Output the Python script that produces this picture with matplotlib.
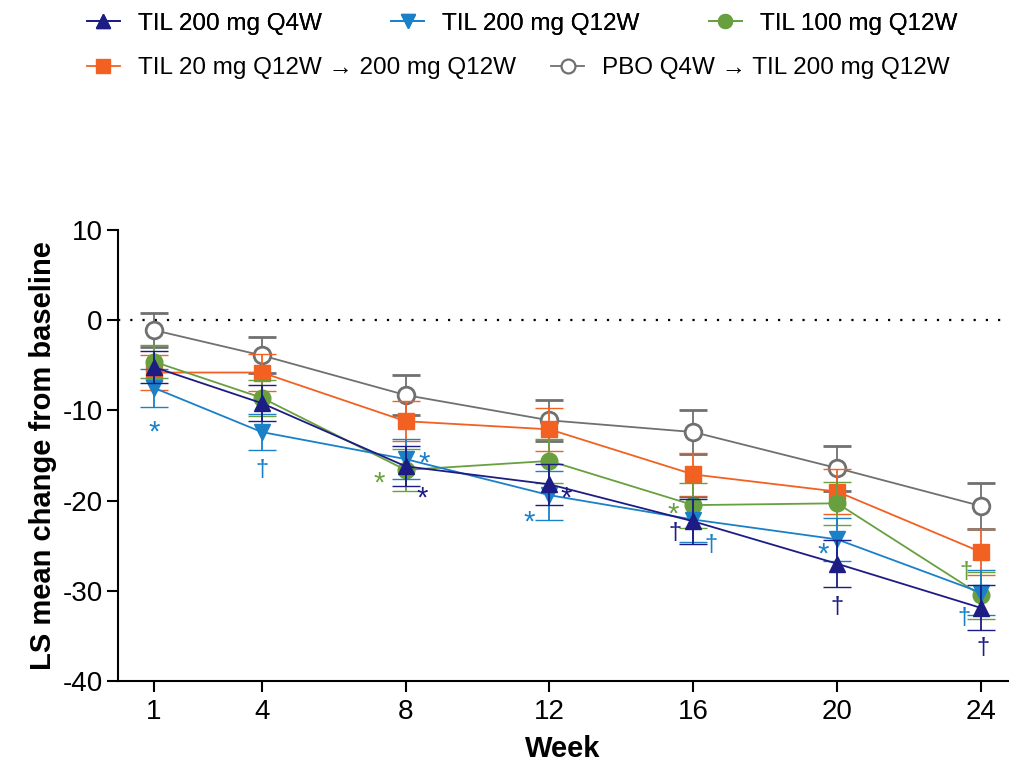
import matplotlib
matplotlib.use("Agg")
import matplotlib.pyplot as plt
from matplotlib.lines import Line2D

plt.rcParams['font.family'] = ['Liberation Sans', 'DejaVu Sans']
plt.rcParams['axes.unicode_minus'] = False

weeks = [1, 4, 8, 12, 16, 20, 24]

til200_q4w = [-5.2, -9.2, -16.2, -18.2, -22.3, -27.0, -31.9]
til200_q4w_se = [1.8, 2.0, 2.2, 2.3, 2.5, 2.6, 2.5]

til200_q12w = [-7.5, -12.4, -15.4, -19.4, -22.1, -24.3, -30.2]
til200_q12w_se = [2.1, 2.0, 2.2, 2.7, 2.5, 2.4, 2.5]

til100_q12w = [-4.6, -8.6, -16.6, -15.6, -20.5, -20.3, -30.5]
til100_q12w_se = [1.8, 2.0, 2.3, 2.4, 2.5, 2.4, 2.6]

til20_q12w = [-5.8, -5.8, -11.2, -12.1, -17.1, -19.0, -25.7]
til20_q12w_se = [1.9, 2.0, 2.2, 2.4, 2.4, 2.5, 2.6]

pbo_q4w = [-1.1, -3.9, -8.3, -11.1, -12.4, -16.4, -20.6]
pbo_q4w_se = [1.9, 2.0, 2.2, 2.3, 2.4, 2.5, 2.6]

labels = ['TIL 200 mg Q4W', 'TIL 200 mg Q12W', 'TIL 100 mg Q12W',
          'TIL 20 mg Q12W \u2192 200 mg Q12W', 'PBO Q4W \u2192 TIL 200 mg Q12W']
colors = ['#1c1c84', '#1a80c8', '#68a040', '#f26122', '#707070']

# significance marks: (series index, week index, symbol, dx px, dy px)
sig_marks = [
    (1, 0, '*', 0, -39), (1, 1, '\u2020', 0, -38),
    (2, 2, '*', -26, -8), (1, 2, '*', 19, 2), (0, 2, '*', 17, -26),
    (0, 3, '*', 17, -8), (1, 3, '*', -20, -21),
    (2, 4, '*', -20, -3), (0, 4, '\u2020', -18, -12), (1, 4, '\u2020', 18, -25),
    (1, 5, '*', -14, -9), (0, 5, '\u2020', 0, -43),
    (2, 6, '\u2020', -15, 23), (1, 6, '\u2020', -17, -25), (0, 6, '\u2020', 2, -40),
]

means = [til200_q4w, til200_q12w, til100_q12w, til20_q12w, pbo_q4w]
ses = [til200_q4w_se, til200_q12w_se, til100_q12w_se, til20_q12w_se, pbo_q4w_se]
markers = ['^', 'v', 'o', 's', 'o']
msizes = [12, 12, 12, 11, 12]
zorders = [10, 9, 8, 7, 6]

fig = plt.figure(figsize=(10.1, 7.68), dpi=100)
ax = fig.add_axes([0.1168, 0.1133, 0.8812, 0.5872])

handles = []
for i in range(5):
    face = 'white' if i == 4 else colors[i]
    ax.errorbar(weeks, means[i], yerr=ses[i], color=colors[i], marker=markers[i],
                markersize=msizes[i], markerfacecolor=face, markeredgecolor=colors[i],
                markeredgewidth=2.0 if i == 4 else 1.0, linewidth=1.3,
                elinewidth=1.3, capsize=10, capthick=1.3, zorder=zorders[i])
    handles.append(Line2D([], [], color=colors[i], marker=markers[i], markersize=10,
                          markerfacecolor=face, markeredgecolor=colors[i],
                          markeredgewidth=1.6 if i == 4 else 1.0, linewidth=1.3))

for s, w, sym, dx, dy in sig_marks:
    size = 21 if sym == '*' else 17
    off = -6 if sym == '*' else 0
    ax.annotate(sym, (weeks[w], means[s][w]), xytext=(dx * 0.72, (dy + off) * 0.72),
                textcoords='offset points', ha='center', va='center',
                color=colors[s], fontsize=size, zorder=20)

ax.axhline(0, color='black', linestyle=(0, (1, 4.5)), linewidth=1.6, zorder=1)

ax.set_xlim(0, 24.75)
ax.set_ylim(-40, 10)
ax.set_xticks(weeks)
ax.set_yticks([10, 0, -10, -20, -30, -40])
ax.spines['top'].set_visible(False)
ax.spines['right'].set_visible(False)
ax.spines['left'].set_linewidth(1.5)
ax.spines['bottom'].set_linewidth(1.5)
ax.tick_params(axis='y', length=8, width=1.5, labelsize=20, pad=3)
ax.tick_params(axis='x', length=8, width=1.5, labelsize=20, pad=5)

ax.set_ylabel('LS mean change from baseline', fontsize=21, fontweight='bold', labelpad=4)
ax.set_xlabel('Week', fontsize=21, fontweight='bold', labelpad=7)

leg1 = fig.legend(handles[:3], labels[:3], loc='center left', bbox_to_anchor=(0.086, 0.969),
                  ncol=3, frameon=False, fontsize=17.5, handlelength=1.36, handletextpad=0.74,
                  columnspacing=2.85, borderpad=0, borderaxespad=0)
leg2 = fig.legend(handles[3:], labels[3:], loc='center left', bbox_to_anchor=(0.086, 0.911),
                  ncol=2, frameon=False, fontsize=17.5, handlelength=1.36, handletextpad=0.74,
                  columnspacing=1.45, borderpad=0, borderaxespad=0)
fig.add_artist(leg1)

plt.savefig('out.png', dpi=100)
